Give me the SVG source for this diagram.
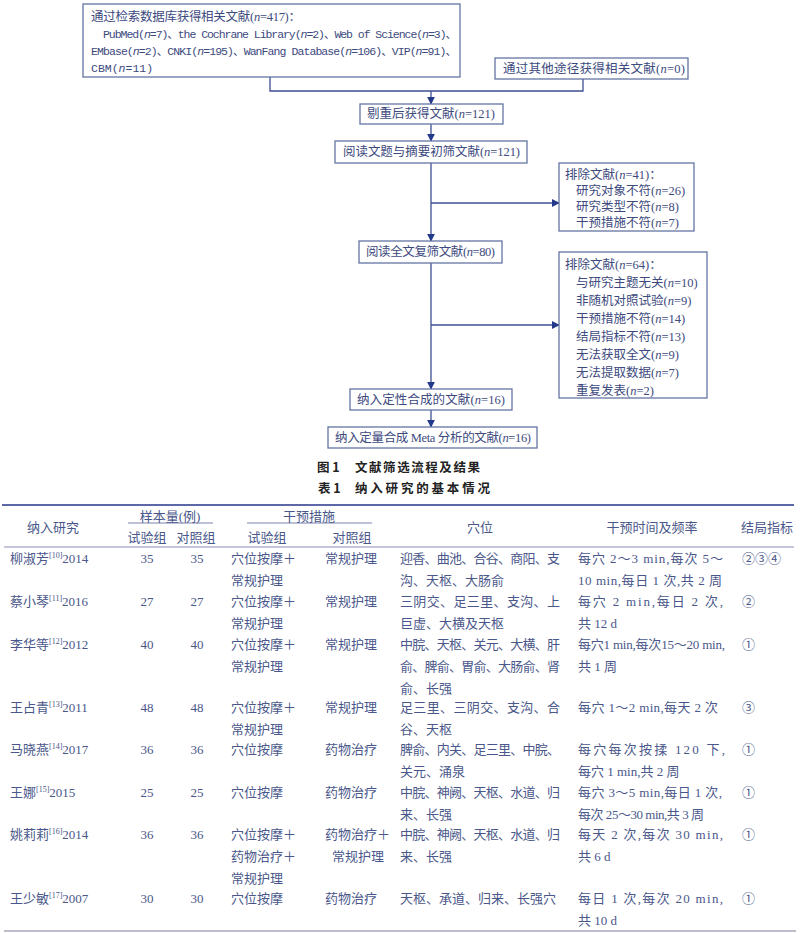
<svg xmlns="http://www.w3.org/2000/svg" width="800" height="933" viewBox="0 0 800 933">
<style>
text{font-family:"Liberation Serif","Noto Sans CJK SC",serif;fill:#3d4a7e;font-size:12.5px}
.mono{font-family:"Liberation Mono","Noto Sans CJK SC",monospace;font-size:11.5px}
.box{fill:#fff;stroke:#6473a3;stroke-width:1.3}
.ln{fill:none;stroke:#3f4f93;stroke-width:1.3}
.i{font-style:italic}
.cap{font-family:"Noto Sans CJK SC",sans-serif;font-weight:bold;fill:#222;font-size:12.5px}
.t{font-size:13px;fill:#4a578a}
.sup{font-size:8px}
.rule{stroke:#5d68a8}
</style>
<defs>
<marker id="ah" viewBox="0 0 10 10" refX="9" refY="5" markerWidth="8" markerHeight="8" orient="auto" markerUnits="userSpaceOnUse">
<path d="M0,0 L10,5 L0,10 z" fill="#233a8a"/>
</marker>
</defs>
<rect width="800" height="933" fill="#fff"/>

<g id="connectors">
<path class="ln" d="M270,77 V91 H583 V79"/>
<path class="ln" d="M431,91 V104" marker-end="url(#ah)"/>
<path class="ln" d="M431,124 V141" marker-end="url(#ah)"/>
<path class="ln" d="M431,163 V241" marker-end="url(#ah)"/>
<path class="ln" d="M431,203 H559" marker-end="url(#ah)"/>
<path class="ln" d="M431,263 V389" marker-end="url(#ah)"/>
<path class="ln" d="M431,325 H559" marker-end="url(#ah)"/>
<path class="ln" d="M431,410 V427" marker-end="url(#ah)"/>
</g>

<g id="n-search">
<rect class="box" x="83" y="4" width="377" height="73"/>
<text x="91" y="21" textLength="210">通过检索数据库获得相关文献(<tspan class="i">n</tspan>=417)：</text>
<text class="mono" x="103" y="38" textLength="354">PubMed(<tspan class="i">n</tspan>=7)、the Cochrane Library(<tspan class="i">n</tspan>=2)、Web of Science(<tspan class="i">n</tspan>=3)、</text>
<text class="mono" x="91" y="55" textLength="366">EMbase(<tspan class="i">n</tspan>=2)、CNKI(<tspan class="i">n</tspan>=195)、WanFang Database(<tspan class="i">n</tspan>=106)、VIP(<tspan class="i">n</tspan>=91)、</text>
<text class="mono" x="91" y="72">CBM(<tspan class="i">n</tspan>=11)</text>
</g>

<g id="n-other">
<rect class="box" x="495" y="58" width="193" height="21"/>
<text x="503" y="73" textLength="182">通过其他途径获得相关文献(<tspan class="i">n</tspan>=0)</text>
</g>

<g id="n-dedup">
<rect class="box" x="360" y="104" width="143" height="20"/>
<text x="367" y="118" textLength="128">剔重后获得文献(<tspan class="i">n</tspan>=121)</text>
</g>

<g id="n-screen">
<rect class="box" x="335" y="141" width="192" height="22"/>
<text x="343" y="156" textLength="177">阅读文题与摘要初筛文献(<tspan class="i">n</tspan>=121)</text>
</g>

<g id="n-excl1">
<rect class="box" x="559" y="163" width="135" height="68"/>
<text x="565" y="179">排除文献(<tspan class="i">n</tspan>=41)：</text>
<text x="576" y="195">研究对象不符(<tspan class="i">n</tspan>=26)</text>
<text x="576" y="211">研究类型不符(<tspan class="i">n</tspan>=8)</text>
<text x="576" y="227">干预措施不符(<tspan class="i">n</tspan>=7)</text>
</g>

<g id="n-full">
<rect class="box" x="359" y="241" width="143" height="22"/>
<text x="366" y="256" textLength="129">阅读全文复筛文献(<tspan class="i">n</tspan>=80)</text>
</g>

<g id="n-excl2">
<rect class="box" x="559" y="252" width="148" height="146"/>
<text x="565" y="269">排除文献(<tspan class="i">n</tspan>=64)：</text>
<text x="576" y="287">与研究主题无关(<tspan class="i">n</tspan>=10)</text>
<text x="576" y="305">非随机对照试验(<tspan class="i">n</tspan>=9)</text>
<text x="576" y="323">干预措施不符(<tspan class="i">n</tspan>=14)</text>
<text x="576" y="341">结局指标不符(<tspan class="i">n</tspan>=13)</text>
<text x="576" y="359">无法获取全文(<tspan class="i">n</tspan>=9)</text>
<text x="576" y="377">无法提取数据(<tspan class="i">n</tspan>=7)</text>
<text x="576" y="395">重复发表(<tspan class="i">n</tspan>=2)</text>
</g>

<g id="n-qual">
<rect class="box" x="350" y="389" width="162" height="21"/>
<text x="357" y="404" textLength="148">纳入定性合成的文献(<tspan class="i">n</tspan>=16)</text>
</g>

<g id="n-meta">
<rect class="box" x="328" y="427" width="209" height="21"/>
<text x="335" y="442" textLength="196">纳入定量合成 Meta 分析的文献(<tspan class="i">n</tspan>=16)</text>
</g>

<g id="captions">
<text class="cap" x="317" y="472">图 1</text>
<text class="cap" x="355" y="472" textLength="125">文献筛选流程及结果</text>
<text class="cap" x="318" y="493">表 1</text>
<text class="cap" x="355" y="493" textLength="135">纳入研究的基本情况</text>
</g>

<g id="table">
<line class="rule" x1="2" y1="505" x2="794" y2="505" stroke-width="2.2"/>
<line x1="128" y1="523" x2="213" y2="523" stroke="#7a84b0" stroke-width="1"/>
<line x1="247" y1="523" x2="372" y2="523" stroke="#7a84b0" stroke-width="1"/>
<line x1="4" y1="547" x2="794" y2="547" stroke="#8a90b4" stroke-width="1"/>
<line x1="4" y1="931" x2="796" y2="931" stroke="#7c7f94" stroke-width="1.2"/>

<g class="hdr">
<text class="t" x="53" y="532" text-anchor="middle">纳入研究</text>
<text class="t" x="170" y="521" text-anchor="middle">样本量(例)</text>
<text class="t" x="309" y="521" text-anchor="middle">干预措施</text>
<text class="t" x="147" y="542" text-anchor="middle">试验组</text>
<text class="t" x="196" y="542" text-anchor="middle">对照组</text>
<text class="t" x="267" y="542" text-anchor="middle">试验组</text>
<text class="t" x="352" y="542" text-anchor="middle">对照组</text>
<text class="t" x="480" y="532" text-anchor="middle">穴位</text>
<text class="t" x="652" y="532" text-anchor="middle">干预时间及频率</text>
<text class="t" x="741" y="532">结局指标</text>
</g>

<g id="row1">
<text class="t" x="10" y="563">柳淑芳<tspan class="sup" dy="-5">[10]</tspan><tspan dy="5">2014</tspan></text>
<text class="t" x="147" y="563" text-anchor="middle">35</text>
<text class="t" x="197" y="563" text-anchor="middle">35</text>
<text class="t" x="231" y="563">穴位按摩＋</text>
<text class="t" x="231" y="585">常规护理</text>
<text class="t" x="325" y="563">常规护理</text>
<text class="t" x="400" y="563" textLength="160">迎香、曲池、合谷、商阳、支</text>
<text class="t" x="400" y="585">沟、天枢、大肠俞</text>
<text class="t" x="578" y="563" textLength="145">每穴 2～3 min,每次 5～</text>
<text class="t" x="578" y="585" textLength="144">10 min,每日 1 次,共 2 周</text>
<text class="t" x="742" y="563">②③④</text>
</g>

<g id="row2">
<text class="t" x="10" y="606">蔡小琴<tspan class="sup" dy="-5">[11]</tspan><tspan dy="5">2016</tspan></text>
<text class="t" x="147" y="606" text-anchor="middle">27</text>
<text class="t" x="197" y="606" text-anchor="middle">27</text>
<text class="t" x="231" y="606">穴位按摩＋</text>
<text class="t" x="231" y="628">常规护理</text>
<text class="t" x="325" y="606">常规护理</text>
<text class="t" x="400" y="606" textLength="160">三阴交、足三里、支沟、上</text>
<text class="t" x="400" y="628">巨虚、大横及天枢</text>
<text class="t" x="578" y="606" textLength="145">每穴 2 min,每日 2 次,</text>
<text class="t" x="578" y="628">共 12 d</text>
<text class="t" x="742" y="606">②</text>
</g>

<g id="row3">
<text class="t" x="10" y="649">李华等<tspan class="sup" dy="-5">[12]</tspan><tspan dy="5">2012</tspan></text>
<text class="t" x="147" y="649" text-anchor="middle">40</text>
<text class="t" x="197" y="649" text-anchor="middle">40</text>
<text class="t" x="231" y="649">穴位按摩＋</text>
<text class="t" x="231" y="671">常规护理</text>
<text class="t" x="325" y="649">常规护理</text>
<text class="t" x="400" y="649" textLength="160">中脘、天枢、关元、大横、肝</text>
<text class="t" x="400" y="671" textLength="160">俞、脾俞、胃俞、大肠俞、肾</text>
<text class="t" x="400" y="693">俞、长强</text>
<text class="t" x="578" y="649" textLength="147">每穴1 min,每次15～20 min,</text>
<text class="t" x="578" y="671">共 1 周</text>
<text class="t" x="742" y="649">①</text>
</g>

<g id="row4">
<text class="t" x="10" y="712">王占青<tspan class="sup" dy="-5">[13]</tspan><tspan dy="5">2011</tspan></text>
<text class="t" x="147" y="712" text-anchor="middle">48</text>
<text class="t" x="197" y="712" text-anchor="middle">48</text>
<text class="t" x="231" y="712">穴位按摩＋</text>
<text class="t" x="231" y="734">常规护理</text>
<text class="t" x="325" y="712">常规护理</text>
<text class="t" x="400" y="712" textLength="160">足三里、三阴交、支沟、合</text>
<text class="t" x="400" y="734">谷、天枢</text>
<text class="t" x="578" y="712" textLength="140">每穴 1～2 min,每天 2 次</text>
<text class="t" x="742" y="712">③</text>
</g>

<g id="row5">
<text class="t" x="10" y="754">马晓燕<tspan class="sup" dy="-5">[14]</tspan><tspan dy="5">2017</tspan></text>
<text class="t" x="147" y="754" text-anchor="middle">36</text>
<text class="t" x="197" y="754" text-anchor="middle">36</text>
<text class="t" x="231" y="754">穴位按摩</text>
<text class="t" x="325" y="754">药物治疗</text>
<text class="t" x="400" y="754" textLength="160">脾俞、内关、足三里、中脘、</text>
<text class="t" x="400" y="776">关元、涌泉</text>
<text class="t" x="578" y="754" textLength="147">每穴每次按揉 120 下,</text>
<text class="t" x="578" y="776">每穴 1 min,共 2 周</text>
<text class="t" x="742" y="754">①</text>
</g>

<g id="row6">
<text class="t" x="10" y="797">王娜<tspan class="sup" dy="-5">[15]</tspan><tspan dy="5">2015</tspan></text>
<text class="t" x="147" y="797" text-anchor="middle">25</text>
<text class="t" x="197" y="797" text-anchor="middle">25</text>
<text class="t" x="231" y="797">穴位按摩</text>
<text class="t" x="325" y="797">药物治疗</text>
<text class="t" x="400" y="797" textLength="160">中脘、神阙、天枢、水道、归</text>
<text class="t" x="400" y="819">来、长强</text>
<text class="t" x="578" y="797" textLength="144">每穴 3～5 min,每日 1 次,</text>
<text class="t" x="578" y="819" textLength="126">每次 25～30 min,共 3 周</text>
<text class="t" x="742" y="797">①</text>
</g>

<g id="row7">
<text class="t" x="10" y="839">姚莉莉<tspan class="sup" dy="-5">[16]</tspan><tspan dy="5">2014</tspan></text>
<text class="t" x="147" y="839" text-anchor="middle">36</text>
<text class="t" x="197" y="839" text-anchor="middle">36</text>
<text class="t" x="231" y="839">穴位按摩＋</text>
<text class="t" x="231" y="861">药物治疗＋</text>
<text class="t" x="231" y="883">常规护理</text>
<text class="t" x="325" y="839">药物治疗＋</text>
<text class="t" x="332" y="861">常规护理</text>
<text class="t" x="400" y="839" textLength="160">中脘、神阙、天枢、水道、归</text>
<text class="t" x="400" y="861">来、长强</text>
<text class="t" x="578" y="839" textLength="145">每天 2 次,每次 30 min,</text>
<text class="t" x="578" y="861">共 6 d</text>
<text class="t" x="742" y="839">①</text>
</g>

<g id="row8">
<text class="t" x="10" y="903">王少敏<tspan class="sup" dy="-5">[17]</tspan><tspan dy="5">2007</tspan></text>
<text class="t" x="147" y="903" text-anchor="middle">30</text>
<text class="t" x="197" y="903" text-anchor="middle">30</text>
<text class="t" x="231" y="903">穴位按摩</text>
<text class="t" x="325" y="903">药物治疗</text>
<text class="t" x="400" y="903">天枢、承道、归来、长强穴</text>
<text class="t" x="578" y="903" textLength="145">每日 1 次,每次 20 min,</text>
<text class="t" x="578" y="925">共 10 d</text>
<text class="t" x="742" y="903">①</text>
</g>
</g>
</svg>
